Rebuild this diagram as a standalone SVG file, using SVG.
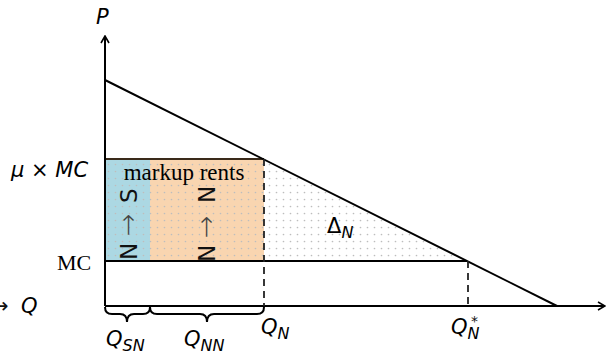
<svg xmlns="http://www.w3.org/2000/svg" width="613" height="354" viewBox="0 0 613 354">
<style>
.m{font-family:"DejaVu Sans","Liberation Sans",sans-serif;font-style:oblique;fill:#000}
.u{font-family:"DejaVu Sans","Liberation Sans",sans-serif;fill:#111}
.a{font-family:"DejaVu Sans","Liberation Sans",sans-serif;fill:#444;font-weight:200}
.s{font-family:"Liberation Serif","DejaVu Serif",serif;fill:#000}
.ln{stroke:#000;stroke-width:2;fill:none}
.ds{stroke:#222;stroke-width:1.8;stroke-dasharray:7,5;fill:none}
</style>
<defs>
<pattern id="dots" width="7" height="7" patternUnits="userSpaceOnUse">
<circle cx="3.5" cy="3.5" r="0.85" fill="#bdbdbd"/>
</pattern>
<marker id="ar" viewBox="0 0 10 10" refX="9" refY="5" markerWidth="10" markerHeight="10" markerUnits="userSpaceOnUse" orient="auto">
<path d="M2,1 L9,5 L2,9" fill="none" stroke="#000" stroke-width="1.6"/>
</marker>
</defs>
<g id="areas">
<rect x="105" y="159" width="45" height="102" fill="#acd8e3"/>
<rect x="150" y="159" width="114" height="102" fill="#f9d5b0"/>
<rect x="105" y="159" width="159" height="102" fill="url(#dots)"/>
<polygon points="264,159 264,261 467,261" fill="url(#dots)"/>
<line x1="105" y1="159" x2="264" y2="159" stroke="#3a2a1a" stroke-width="2"/>
</g>
<g id="connectors">
<line class="ln" x1="105" y1="306" x2="105" y2="36" marker-end="url(#ar)"/>
<line class="ln" x1="105" y1="306" x2="605" y2="306" marker-end="url(#ar)"/>
<line class="ln" x1="105" y1="80" x2="557" y2="306"/>
<line class="ln" x1="105" y1="261" x2="467" y2="261"/>
<line class="ds" x1="264" y1="159" x2="264" y2="306"/>
<line class="ds" x1="468" y1="261" x2="468" y2="306"/>
<path class="ln" stroke-width="1.6" d="M105,307 q0,7 7,7 h8 q7,0 7,8 q0,-8 7,-8 h9 q7,0 7,-7"/>
<path class="ln" stroke-width="1.6" d="M150,307 q0,7 7,7 h43 q7,0 7,8 q0,-8 7,-8 h43 q7,0 7,-7"/>
</g>
<g id="labels">
<text class="m" x="96" y="24" font-size="21">P</text>
<text class="u" x="-9" y="313" font-size="21">→</text>
<text class="m" x="21" y="313" font-size="21">Q</text>
<text class="m" x="11" y="177" font-size="21">μ × MC</text>
<text class="s" x="57" y="270" font-size="22">MC</text>
<text class="s" x="184" y="180" font-size="23" text-anchor="middle">markup rents</text>
<g transform="translate(137,260) rotate(-90)">
<text class="u" x="0" y="0" font-size="23">N</text>
<text class="a" x="24" y="0" font-size="27">→</text>
<text class="u" x="57" y="0" font-size="23">S</text>
</g>
<g transform="translate(215,262) rotate(-90)">
<text class="u" x="0" y="0" font-size="23">N</text>
<text class="a" x="24" y="0" font-size="27">→</text>
<text class="u" x="59" y="0" font-size="23">N</text>
</g>
<text class="m" x="327" y="233" font-size="21"><tspan font-style="normal">Δ</tspan><tspan font-size="16" dy="5">N</tspan></text>
<text class="m" x="106" y="346" font-size="21">Q<tspan font-size="16" dy="5">SN</tspan></text>
<text class="m" x="184" y="346" font-size="21">Q<tspan font-size="16" dy="5">NN</tspan></text>
<text class="m" x="261" y="334" font-size="21">Q<tspan font-size="16" dy="5">N</tspan></text>
<text class="m" x="451" y="334" font-size="21">Q<tspan font-size="16" dy="5">N</tspan></text>
<text class="u" x="471" y="326" font-size="14">*</text>
</g>
</svg>
